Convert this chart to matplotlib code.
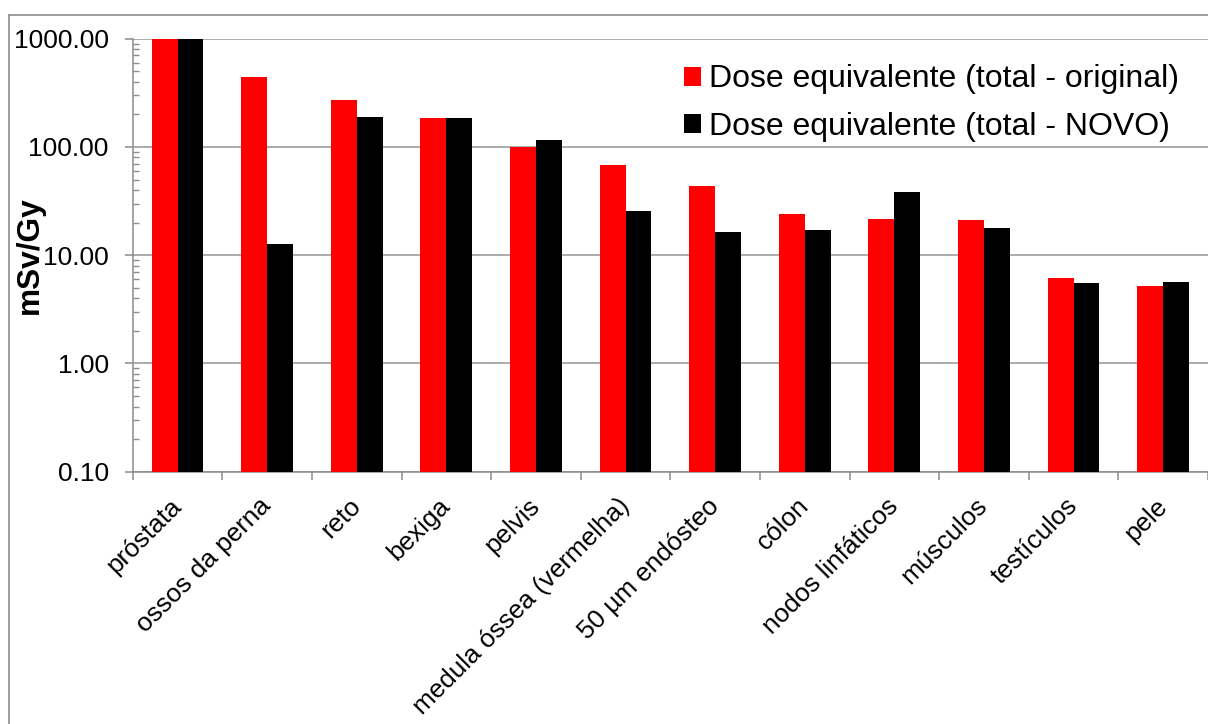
import numpy as np
import matplotlib
matplotlib.use("Agg")
import matplotlib.pyplot as plt
from matplotlib.lines import Line2D
from matplotlib.ticker import FixedLocator, LogLocator, NullFormatter
from matplotlib.transforms import ScaledTranslation

plt.rcParams['font.family'] = ['Liberation Sans', 'DejaVu Sans']

# Equivalent dose per organ (mSv/Gy)
categories = ["próstata", "ossos da perna", "reto", "bexiga", "pelvis",
              "medula óssea (vermelha)", "50 µm endósteo", "cólon",
              "nodos linfáticos", "músculos", "testículos", "pele"]
dose_original = [1000, 446, 273, 186, 100, 67.7, 43.9, 24.0, 21.6, 21.0, 6.16, 5.23]
dose_novo = [1000, 12.6, 190, 186, 116.7, 25.4, 16.5, 17.0, 38.1, 17.7, 5.50, 5.65]
y_ticks = [0.1, 1, 10, 100, 1000]
y_ticklabels = ["0.10", "1.00", "10.00", "100.00", "1000.00"]
legend_labels = ["Dose equivalente (total - original)", "Dose equivalente (total - NOVO)"]

W, H = 1208, 724
fig = plt.figure(figsize=(W / 100, H / 100), dpi=100)
ax = fig.add_axes([132.7 / W, 1 - 471.7 / H, (W - 132.7) / W, (471.7 - 38.7) / H])

x = np.arange(len(categories))
w = 0.289
grey = "#8c8c8c"
ax.bar(x - w / 2, dose_original, w, color="#ff0000", label=legend_labels[0], zorder=3)
ax.bar(x + w / 2, dose_novo, w, color="black", label=legend_labels[1], zorder=3)

ax.set_yscale("log")
ax.set_ylim(0.1, 1000)
ax.set_xlim(-0.5, 11.36)

ax.yaxis.set_major_locator(FixedLocator(y_ticks))
ax.set_yticklabels(y_ticklabels, fontsize=19)
ax.yaxis.set_minor_locator(LogLocator(base=10, subs=np.arange(2, 10)))
ax.yaxis.set_minor_formatter(NullFormatter())
ax.tick_params(axis="y", which="major", direction="out", length=5.8, width=1.1,
               color=grey, pad=11.5)
ax.tick_params(axis="y", which="minor", direction="in", length=4.3, width=1.0, color=grey)

ax.set_xticks(x)
ax.set_xticklabels(categories, fontsize=18.8, rotation=45, ha="right", va="center",
                   rotation_mode="anchor")
shift = ScaledTranslation(0.03, 0, fig.dpi_scale_trans)
for lbl in ax.get_xticklabels():
    lbl.set_transform(lbl.get_transform() + shift)
ax.set_xticks(np.arange(len(categories) + 1) - 0.5, minor=True)
ax.tick_params(axis="x", which="major", length=0, pad=22)
ax.tick_params(axis="x", which="minor", direction="out", length=5.8, width=1.1, color=grey)

ax.grid(axis="y", which="major", color="#a6a6a6", linewidth=1.3, zorder=0)
for s in ["top", "right"]:
    ax.spines[s].set_visible(False)
for s in ["left", "bottom"]:
    ax.spines[s].set_color(grey)
    ax.spines[s].set_linewidth(1.1)

ax.set_ylabel("mSv/Gy", fontsize=22.8, fontweight="bold")
ax.yaxis.set_label_coords((45 - 132.7) / (W - 132.7), 0.5)

ax.legend(loc="upper left", bbox_to_anchor=(684 / W, 1 - 64.5 / H), bbox_transform=fig.transFigure,
          frameon=False, fontsize=23, handlelength=0.53, handleheight=0.53,
          handletextpad=0.25, labelspacing=0.55, borderpad=0, borderaxespad=0)

# chart area border
fig.add_artist(Line2D([9.3 / W, 9.3 / W], [0, 1 - 14.7 / H], transform=fig.transFigure,
                      color=grey, linewidth=1.2))
fig.add_artist(Line2D([9.3 / W, 1], [1 - 14.7 / H, 1 - 14.7 / H], transform=fig.transFigure,
                      color=grey, linewidth=1.2))

fig.savefig("out.png", dpi=100)
